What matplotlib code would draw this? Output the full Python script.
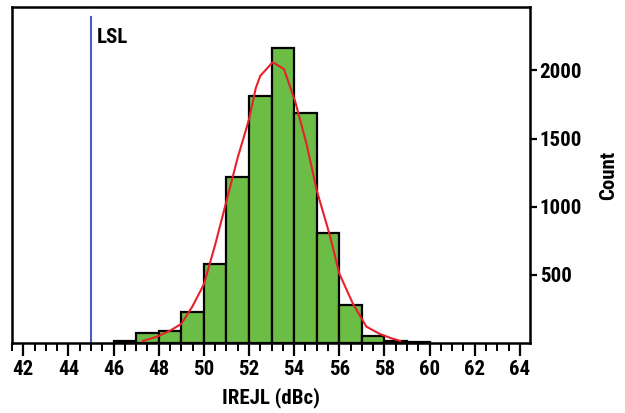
import numpy as np
import matplotlib.pyplot as plt
from matplotlib.ticker import MultipleLocator

plt.rcParams['font.family'] = ['Liberation Sans Narrow', 'Roboto Condensed', 'DejaVu Sans']
plt.rcParams['font.weight'] = 'bold'
plt.rcParams['font.stretch'] = 'condensed'

# histogram bins (left edges) and counts
bin_left = [46, 47, 48, 49, 50, 51, 52, 53, 54, 55, 56, 57, 58, 59]
counts = [12, 75, 90, 225, 580, 1220, 1810, 2165, 1685, 805, 280, 50, 12, 6]

# fitted curve
curve_x = [47.3, 47.9, 48.5, 49.0, 49.5, 50.0, 50.5, 51.0, 51.5, 52.0, 52.3, 52.5,
           53.05, 53.55, 54.05, 54.55, 55.0, 55.6, 56.0, 56.6, 57.2, 57.8, 58.3, 58.7]
curve_y = [15, 45, 90, 140, 270, 430, 720, 1040, 1360, 1640, 1870, 1960,
           2060, 2010, 1770, 1460, 1120, 780, 510, 290, 120, 66, 35, 15]

lsl = 45

fig = plt.figure(figsize=(6.25, 4.13), dpi=100)
ax = fig.add_axes([0.0192, 0.1695, 0.8288, 0.8135])

ax.bar(bin_left, counts, width=1, align='edge', color='#6cbd45',
       edgecolor='black', linewidth=1.6, zorder=2)
ax.plot(curve_x, curve_y, color='#e8202a', lw=1.5, zorder=3)
ax.plot([lsl, lsl], [0, 2390], color='#4a5fb5', lw=1.5, zorder=1)
ax.text(lsl + 0.25, 2240, 'LSL', fontsize=15, fontweight='bold', va='center')

ax.set_xlim(41.5, 64.45)
ax.set_ylim(0, 2465)

ax.xaxis.set_major_locator(MultipleLocator(2))
ax.xaxis.set_minor_locator(MultipleLocator(0.5))
ax.tick_params(axis='x', which='major', length=9, width=1.6, labelsize=15, pad=3)
ax.tick_params(axis='x', which='minor', length=6, width=1.4)

ax.yaxis.tick_right()
ax.yaxis.set_label_position('right')
ax.set_yticks([500, 1000, 1500, 2000])
ax.tick_params(axis='y', length=5, width=1.6, labelsize=15, pad=2)

for s in ax.spines.values():
    s.set_linewidth(1.8)

ax.set_xlabel('IREJL (dBc)', fontsize=15, fontweight='bold', labelpad=6)
ax.set_ylabel('Count', fontsize=15, fontweight='bold', labelpad=12)

fig.savefig('out.png', dpi=100)
